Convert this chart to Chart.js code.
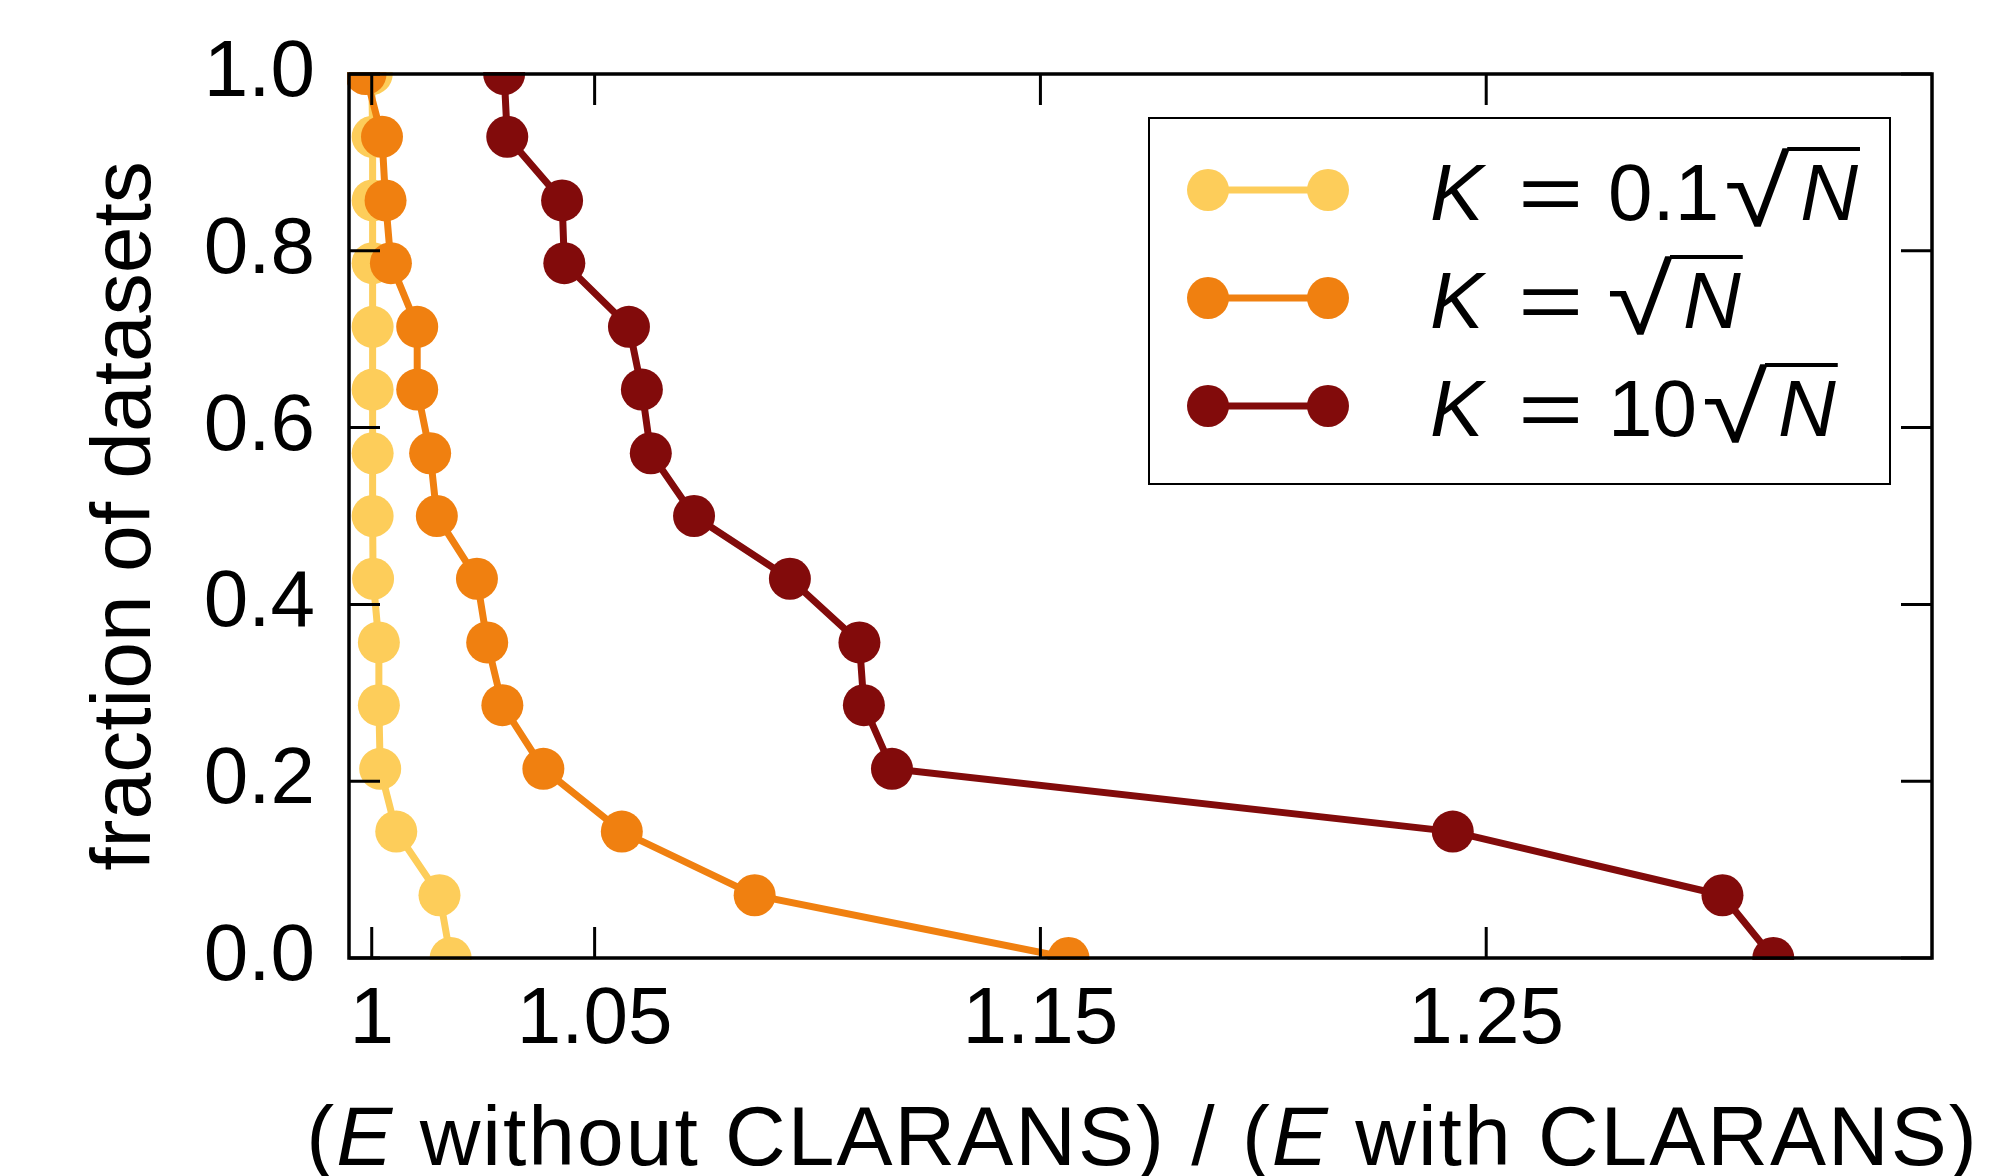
<!DOCTYPE html>
<html>
<head>
<meta charset="utf-8">
<title>CLARANS ratio</title>
<script src="https://cdn.jsdelivr.net/npm/chart.js@4"></script>
<style>
html, body { margin:0; padding:0; background:#fff; }
#wrap { width:2006px; height:1176px; }
</style>
</head>
<body>
<div id="wrap"><canvas id="chart" width="2006" height="1176"></canvas></div>
<script>
// fraction of datasets, bottom to top
const fractions = [0.0, 0.071, 0.143, 0.214, 0.286, 0.357, 0.429, 0.5, 0.571, 0.643, 0.714, 0.786, 0.857, 0.929, 1.0];
// (E without CLARANS) / (E with CLARANS), same order as fractions
const ratioK01 = [1.0177, 1.0152, 1.0055, 1.0019, 1.0016, 1.0016, 1.0003, 1.0002, 1.0002, 1.0002, 1.0002, 1.0002, 1.0002, 1.0002, 1.0000];
const ratioK1  = [1.1563, 1.0859, 1.0561, 1.0385, 1.0293, 1.0259, 1.0236, 1.0146, 1.0131, 1.0102, 1.0102, 1.0043, 1.0031, 1.0023, 0.9986];
const ratioK10 = [1.3144, 1.3030, 1.2425, 1.1167, 1.1104, 1.1094, 1.0938, 1.0723, 1.0626, 1.0606, 1.0577, 1.0432, 1.0427, 1.0304, 1.0297];

const seriesCoef = ['0.1', '', '10'];          // K = coef * sqrt(N)
const seriesColors = ['#fdcd5a', '#f08010', '#820b0b'];
const xTicks = [1, 1.05, 1.15, 1.25];
const xTickLabels = ['1', '1.05', '1.15', '1.25'];
const yTicks = [0, 0.2, 0.4, 0.6, 0.8, 1.0];

const FONT = "'Liberation Sans', Arial, sans-serif";

function pts(xs) {
  return xs.map((v, i) => ({ x: v, y: fractions[i] }));
}

function ds(label, xs, color, order) {
  return {
    label: label,
    data: pts(xs),
    showLine: true,
    borderColor: color,
    backgroundColor: color,
    borderWidth: 7,
    pointRadius: 21,
    pointHoverRadius: 21,
    pointBorderWidth: 0,
    pointBackgroundColor: color,
    clip: 2,
    order: order
  };
}

// inward ticks on all four sides + box frame
const framePlugin = {
  id: 'frame',
  afterDatasetsDraw(chart) {
    const { ctx, chartArea: a, scales: { x, y } } = chart;
    ctx.save();
    ctx.strokeStyle = '#000';
    ctx.lineWidth = 3;
    ctx.beginPath();
    xTicks.forEach(v => {
      const px = x.getPixelForValue(v);
      ctx.moveTo(px, a.bottom); ctx.lineTo(px, a.bottom - 31);
      ctx.moveTo(px, a.top); ctx.lineTo(px, a.top + 31);
    });
    yTicks.forEach(v => {
      const py = y.getPixelForValue(v);
      ctx.moveTo(a.left, py); ctx.lineTo(a.left + 31, py);
      ctx.moveTo(a.right, py); ctx.lineTo(a.right - 31, py);
    });
    ctx.stroke();
    ctx.lineWidth = 3.5;
    ctx.strokeRect(a.left, a.top, a.right - a.left, a.bottom - a.top);
    ctx.restore();
  }
};

function drawKLabel(ctx, x0, b, coef) {
  ctx.fillStyle = '#000';
  ctx.strokeStyle = '#000';
  ctx.textBaseline = 'alphabetic';
  ctx.textAlign = 'left';
  ctx.font = 'italic 80px ' + FONT;
  ctx.fillText('K', x0, b);
  ctx.font = '80px ' + FONT;
  ctx.save();
  ctx.translate(x0 + 88, b);
  ctx.scale(1.4, 1);
  ctx.fillText('=', 0, 0);
  ctx.restore();
  let rx = x0 + 180;
  if (coef) {
    ctx.fillText(coef, x0 + 178, b);
    rx = x0 + 178 + ctx.measureText(coef).width + 8;
  }
  // radical sign fitted into box rx..rx+63, b-73..b+7
  ctx.font = '80px ' + FONT;
  const m = ctx.measureText('\u221A');
  const gw = m.actualBoundingBoxLeft + m.actualBoundingBoxRight;
  const gh = m.actualBoundingBoxAscent + m.actualBoundingBoxDescent;
  ctx.save();
  ctx.translate(rx, b - 73);
  ctx.scale(63 / gw, 80 / gh);
  ctx.fillText('\u221A', m.actualBoundingBoxLeft, m.actualBoundingBoxAscent);
  ctx.restore();
  ctx.font = 'italic 80px ' + FONT;
  const nx = rx + 73;
  const nw = ctx.measureText('N').width;
  ctx.fillText('N', nx, b);
  ctx.lineWidth = 4;
  ctx.beginPath();
  ctx.moveTo(rx + 60, b - 71);
  ctx.lineTo(nx + nw + 2, b - 71);
  ctx.stroke();
}

const legendPlugin = {
  id: 'mplLegend',
  afterDraw(chart) {
    const { ctx, chartArea: a } = chart;
    const bw = 741, bh = 366;
    const bx = a.right - 42 - bw, by = a.top + 44;
    ctx.save();
    ctx.fillStyle = '#fff';
    ctx.fillRect(bx, by, bw, bh);
    ctx.strokeStyle = '#000';
    ctx.lineWidth = 2;
    ctx.strokeRect(bx, by, bw, bh);
    const rows = [72, 180, 288];
    seriesColors.forEach((c, i) => {
      const cy = by + rows[i];
      ctx.strokeStyle = c;
      ctx.fillStyle = c;
      ctx.lineWidth = 7;
      ctx.beginPath();
      ctx.moveTo(bx + 59, cy); ctx.lineTo(bx + 179, cy);
      ctx.stroke();
      [59, 179].forEach(dx => {
        ctx.beginPath();
        ctx.arc(bx + dx, cy, 21, 0, Math.PI * 2);
        ctx.fill();
      });
      drawKLabel(ctx, bx + 281, cy + 30, seriesCoef[i]);
    });

    // x axis title with italic E
    const parts = [['(', false], ['E', true], [' without CLARANS) / (', false], ['E', true], [' with CLARANS)', false]];
    ctx.fillStyle = '#000';
    ctx.textBaseline = 'alphabetic';
    ctx.textAlign = 'left';
    ctx.letterSpacing = '2px';
    let total = 0;
    parts.forEach(p => {
      ctx.font = (p[1] ? 'italic ' : '') + '84px ' + FONT;
      total += ctx.measureText(p[0]).width;
    });
    let tx = (a.left + a.right) / 2 - total / 2 + 2;
    parts.forEach(p => {
      ctx.font = (p[1] ? 'italic ' : '') + '84px ' + FONT;
      ctx.fillText(p[0], tx, 1165);
      tx += ctx.measureText(p[0]).width;
    });
    ctx.restore();
  }
};

new Chart(document.getElementById('chart'), {
  type: 'scatter',
  data: {
    datasets: [
      ds('K = 0.1√N', ratioK01, seriesColors[0], 3),
      ds('K = √N', ratioK1, seriesColors[1], 2),
      ds('K = 10√N', ratioK10, seriesColors[2], 1)
    ]
  },
  options: {
    responsive: false,
    devicePixelRatio: 1,
    animation: false,
    layout: { padding: { top: 74, right: 74, left: 0, bottom: 0 } },
    plugins: { legend: { display: false }, tooltip: { enabled: false } },
    scales: {
      x: {
        type: 'linear',
        min: 0.9949,
        max: 1.35,
        grid: { display: false, drawTicks: false },
        border: { display: false },
        afterBuildTicks: s => { s.ticks = xTicks.map(v => ({ value: v })); },
        afterFit: s => { s.height = 218; },
        ticks: {
          autoSkip: false,
          maxRotation: 0,
          padding: 15,
          color: '#000',
          font: { family: FONT, size: 80 },
          callback: (v, i) => xTickLabels[i]
        }
      },
      y: {
        type: 'linear',
        min: 0,
        max: 1,
        grid: { display: false, drawTicks: false },
        border: { display: false },
        afterBuildTicks: s => { s.ticks = yTicks.map(v => ({ value: v })); },
        afterFit: s => { s.width = 349; s.paddingTop = 0; s.paddingBottom = 0; },
        ticks: {
          padding: 34,
          color: '#000',
          font: { family: FONT, size: 80, lineHeight: 0.5 },
          callback: v => v.toFixed(1)
        },
        title: {
          display: true,
          text: 'fraction of datasets',
          color: '#000',
          font: { family: FONT, size: 84 },
          padding: { top: 76, bottom: 0 }
        }
      }
    }
  },
  plugins: [framePlugin, legendPlugin]
});
</script>
</body>
</html>
